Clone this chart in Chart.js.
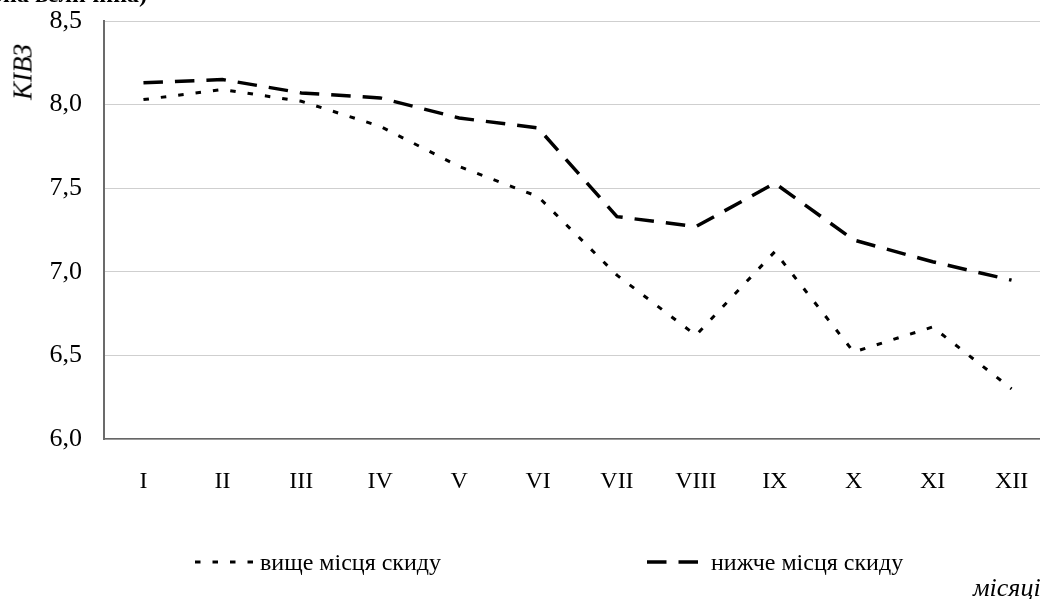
<!DOCTYPE html>
<html>
<head>
<meta charset="utf-8">
<script src="https://cdn.jsdelivr.net/npm/chart.js@4.4.1/dist/chart.umd.min.js"></script>
<style>
    html, body { margin: 0; padding: 0; background: #fff; overflow: hidden; }
    #wrap { position: relative; width: 1040px; height: 599px; overflow: hidden; }
    #chart { position: absolute; left: 0; top: 0; }
    .txt { position: absolute; font-family: "Liberation Serif", "Times New Roman", serif; color: #000; white-space: nowrap; line-height: 1; }
    #title { right: 893px; top: -18px; font-size: 24px; font-weight: bold; }
    #ytitle { left: 23px; top: 72px; font-size: 27px; font-style: italic; transform: translate(-50%, -50%) rotate(-90deg); }
    #xtitle { left: 973px; top: 575px; font-size: 26px; font-style: italic; }
</style>
</head>
<body>
<div id="wrap">
    <canvas id="chart" width="1060" height="599"></canvas>
    <div class="txt" id="title">(безрозмірна величина)</div>
    <div class="txt" id="ytitle">КІВЗ</div>
    <div class="txt" id="xtitle">місяці</div>
</div>
<script>
// months (x axis)
const months = ['I', 'II', 'III', 'IV', 'V', 'VI', 'VII', 'VIII', 'IX', 'X', 'XI', 'XII'];
// КІВЗ above the discharge point
const aboveValues = [8.03, 8.09, 8.02, 7.87, 7.63, 7.45, 6.98, 6.62, 7.12, 6.52, 6.67, 6.30];
// КІВЗ below the discharge point
const belowValues = [8.13, 8.15, 8.07, 8.04, 7.92, 7.86, 7.33, 7.27, 7.53, 7.19, 7.06, 6.95];
const yTicks = [6.0, 6.5, 7.0, 7.5, 8.0, 8.5];
const seriesNames = ['вище місця скиду', 'нижче місця скиду'];

const serif = '"Liberation Serif", "Times New Roman", serif';

// legend drawn under the plot, spaced like the original
const legendPlugin = {
    id: 'wideLegend',
    afterDraw(chart) {
        const ctx = chart.ctx;
        const spots = [{ x: 195, w: 58, tx: 260 }, { x: 647, w: 52, tx: 711 }];
        const y = 562;
        chart.data.datasets.forEach((ds, i) => {
            const s = spots[i];
            ctx.save();
            ctx.strokeStyle = ds.borderColor;
            ctx.lineWidth = ds.borderWidth;
            ctx.setLineDash(ds.borderDash);
            ctx.beginPath();
            ctx.moveTo(s.x, y);
            ctx.lineTo(s.x + s.w, y);
            ctx.stroke();
            ctx.setLineDash([]);
            ctx.fillStyle = '#000';
            ctx.font = '24px ' + serif;
            ctx.textBaseline = 'alphabetic';
            ctx.fillText(ds.label, s.tx, 570);
            ctx.restore();
        });
    }
};

const ctx = document.getElementById('chart').getContext('2d');
const chart = new Chart(ctx, {
    type: 'line',
    data: {
        labels: months,
        datasets: [{
            label: seriesNames[0],
            data: aboveValues,
            borderColor: '#000',
            borderWidth: 3,
            borderDash: [5.5, 12],
            borderCapStyle: 'butt',
            pointRadius: 0,
            fill: false,
            tension: 0
        }, {
            label: seriesNames[1],
            data: belowValues,
            borderColor: '#000',
            borderWidth: 3.5,
            borderDash: [19.5, 12],
            borderCapStyle: 'butt',
            pointRadius: 0,
            fill: false,
            tension: 0
        }]
    },
    options: {
        responsive: false,
        devicePixelRatio: 1,
        animation: false,
        layout: { padding: { top: 21, right: 9, bottom: 100, left: 0 } },
        plugins: {
            legend: { display: false },
            tooltip: { enabled: false }
        },
        scales: {
            x: {
                offset: true,
                grid: { display: false, drawTicks: false },
                border: { display: true, color: '#666', width: 1.5 },
                ticks: {
                    color: '#000',
                    padding: 28,
                    maxRotation: 0,
                    autoSkip: false,
                    font: { family: serif, size: 24 }
                },
                afterFit(scale) { scale.height = 60; }
            },
            y: {
                min: yTicks[0],
                max: yTicks[yTicks.length - 1],
                afterBuildTicks(scale) {
                    scale.ticks = yTicks.map(v => ({ value: v }));
                },
                grid: { color: '#cfcfcf', lineWidth: 1, drawTicks: false },
                border: { display: true, color: '#6b6b6b', width: 2 },
                ticks: {
                    color: '#000',
                    padding: 22,
                    font: { family: serif, size: 26 },
                    callback: (v) => Number(v).toFixed(1).replace('.', ',')
                },
                afterFit(scale) {
                    // fixed axis width; let the top label hang over the padding
                    scale.width = 104;
                    scale.paddingTop = 0;
                    scale.paddingBottom = 0;
                }
            }
        }
    },
    plugins: [legendPlugin]
});
</script>
</body>
</html>
